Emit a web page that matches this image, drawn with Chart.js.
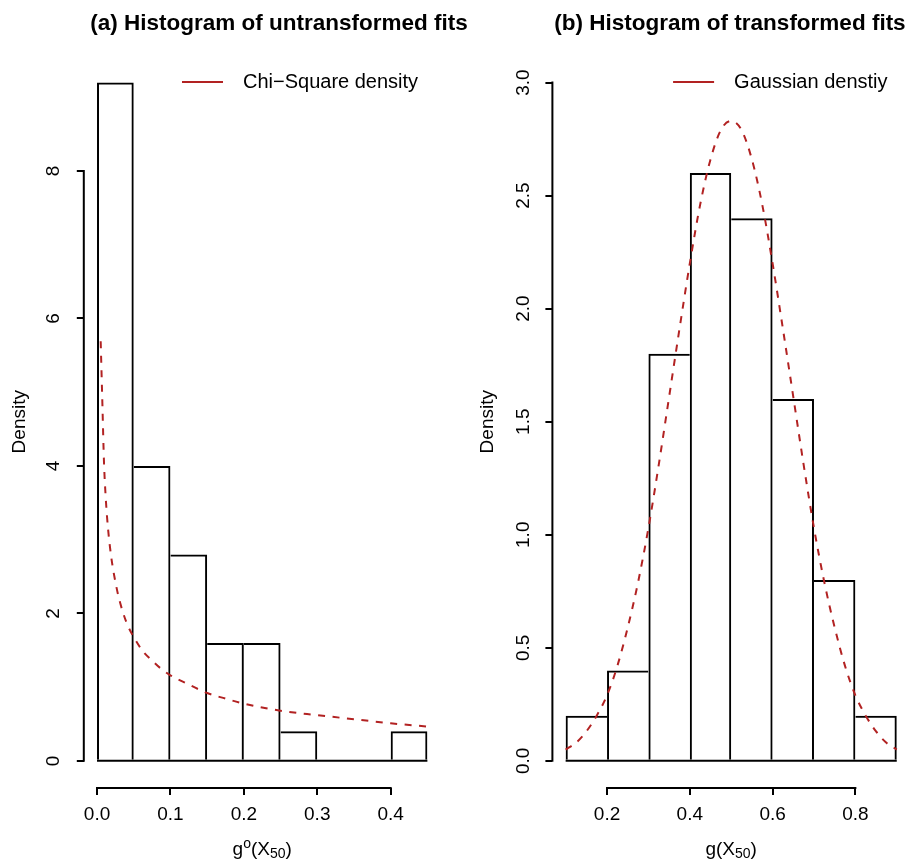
<!DOCTYPE html>
<html>
<head>
<meta charset="utf-8">
<script src="https://cdn.jsdelivr.net/npm/chart.js@4/dist/chart.umd.min.js"></script>
<style>
  html, body { margin: 0; padding: 0; background: #fff; width: 907px; height: 863px; overflow: hidden; }
  .panel { position: absolute; top: 0; height: 863px; }
  #wrapA { left: 0; width: 470px; }
  #wrapB { left: 470px; width: 450px; }
</style>
</head>
<body>
<div class="panel" id="wrapA"><canvas id="histA"></canvas></div>
<div class="panel" id="wrapB"><canvas id="histB"></canvas></div>
<script>
// ---- Panel (a): histogram of untransformed fits ----
const untransBreaks  = [0, 0.05, 0.10, 0.15, 0.20, 0.25, 0.30, 0.35, 0.40, 0.45];
const untransDensity = [9.2, 4.0, 2.8, 1.6, 1.6, 0.4, 0, 0, 0.4];
const untransYLim    = [0, 9.2];
const chiSqX = [0.005, 0.0073, 0.0095, 0.012, 0.015, 0.02, 0.025, 0.03, 0.04, 0.05, 0.063, 0.075,
                0.086, 0.10, 0.122, 0.15, 0.175, 0.20, 0.25, 0.30, 0.35, 0.40, 0.45];
const chiSqY = [5.69, 4.85, 4.05, 3.55, 3.15, 2.72, 2.43, 2.20, 1.88, 1.68, 1.48, 1.36,
                1.26, 1.16, 1.05, 0.92, 0.845, 0.775, 0.68, 0.62, 0.565, 0.51, 0.465];
const untransXTicks  = [0, 0.1, 0.2, 0.3, 0.4];
const untransXLabels = ['0.0', '0.1', '0.2', '0.3', '0.4'];
const untransYTicks  = [0, 2, 4, 6, 8];
const untransYLabels = ['0', '2', '4', '6', '8'];

// ---- Panel (b): histogram of transformed fits ----
const transBreaks  = [0.1, 0.2, 0.3, 0.4, 0.5, 0.6, 0.7, 0.8, 0.9];
const transDensity = [0.2, 0.4, 1.8, 2.6, 2.4, 1.6, 0.8, 0.2];
const transYLim    = [0, 3];
const gaussX = [0.100, 0.125, 0.150, 0.175, 0.200, 0.225, 0.250, 0.275, 0.300, 0.325, 0.350,
                0.375, 0.400, 0.425, 0.450, 0.475, 0.500, 0.525, 0.550, 0.575, 0.600, 0.625,
                0.650, 0.675, 0.700, 0.725, 0.750, 0.775, 0.800, 0.825, 0.850, 0.875, 0.900];
const gaussY = [0.05, 0.08, 0.13, 0.20, 0.29, 0.42, 0.59, 0.79, 1.03, 1.31, 1.61,
                1.91, 2.20, 2.46, 2.66, 2.79, 2.83, 2.79, 2.66, 2.46, 2.20, 1.91,
                1.61, 1.31, 1.03, 0.79, 0.59, 0.42, 0.29, 0.20, 0.13, 0.08, 0.05];
const transXTicks  = [0.2, 0.4, 0.6, 0.8];
const transXLabels = ['0.2', '0.4', '0.6', '0.8'];
const transYTicks  = [0, 0.5, 1.0, 1.5, 2.0, 2.5, 3.0];
const transYLabels = ['0.0', '0.5', '1.0', '1.5', '2.0', '2.5', '3.0'];

const FAMILY = '"Liberation Sans", Arimo, Arial, Helvetica, sans-serif';
const INK = '#000000';
const RED = '#B22222';
const LW = 2;

// axis limits padded by 4% on each side
function padRange(lo, hi) { const d = (hi - lo) * 0.04; return [lo - d, hi + d]; }

// one bar per bin, centred on the bin
function binBars(breaks, dens) {
  return dens.map((d, i) => ({ x: (breaks[i] + breaks[i + 1]) / 2, y: d }));
}
// shared edges are drawn once, by the taller of the two neighbouring bins
function binBorders(dens, w) {
  return dens.map((d, i) => ({
    top: d > 0 ? w : 0,
    bottom: 0,
    left: (i === 0 || dens[i - 1] < d) ? w : 0,
    right: (i === dens.length - 1 || dens[i + 1] <= d) ? w : 0
  }));
}
function pts(xs, ys) { return xs.map((x, i) => ({ x, y: ys[i] })); }

// axis lines that run from the first to the last tick only
const tickSpanAxes = {
  id: 'tickSpanAxes',
  afterDraw(chart) {
    const { ctx, chartArea: a, scales: { x, y } } = chart;
    const xt = x.ticks, yt = y.ticks;
    ctx.save();
    ctx.strokeStyle = INK;
    ctx.lineWidth = LW;
    ctx.lineCap = 'square';
    ctx.beginPath();
    ctx.moveTo(x.getPixelForValue(xt[0].value), a.bottom);
    ctx.lineTo(x.getPixelForValue(xt[xt.length - 1].value), a.bottom);
    ctx.moveTo(a.left, y.getPixelForValue(yt[0].value));
    ctx.lineTo(a.left, y.getPixelForValue(yt[yt.length - 1].value));
    ctx.stroke();
    ctx.restore();
  }
};

// panel title, line legend and the x-axis label with sub/superscripts
const panelText = {
  id: 'panelText',
  afterDraw(chart, args, o) {
    const { ctx, chartArea: a } = chart;
    ctx.save();
    ctx.fillStyle = INK;
    ctx.textBaseline = 'alphabetic';

    ctx.font = `bold ${o.titleSize}px ${FAMILY}`;
    ctx.textAlign = 'center';
    ctx.fillText(o.title, o.titleCenter, o.titleBaseline);

    ctx.font = `${o.legendSize}px ${FAMILY}`;
    ctx.textAlign = 'left';
    ctx.textBaseline = 'middle';
    const tw = ctx.measureText(o.legendText).width;
    const tx = a.right - o.legendInset - tw;
    ctx.fillText(o.legendText, tx, o.legendY);
    ctx.strokeStyle = RED;
    ctx.lineWidth = 2;
    ctx.beginPath();
    ctx.moveTo(tx - o.legendGap - o.legendLine, o.legendY);
    ctx.lineTo(tx - o.legendGap, o.legendY);
    ctx.stroke();

    ctx.textBaseline = 'alphabetic';
    const parts = o.xTitle.map(p => {
      const size = p.sub || p.sup ? o.xSmall : o.xSize;
      ctx.font = `${size}px ${FAMILY}`;
      return { ...p, size, w: ctx.measureText(p.t).width };
    });
    const total = parts.reduce((s, p) => s + p.w, 0);
    let cx = (a.left + a.right) / 2 - total / 2;
    for (const p of parts) {
      ctx.font = `${p.size}px ${FAMILY}`;
      const dy = p.sup ? -o.supRaise : p.sub ? o.subDrop : 0;
      ctx.fillText(p.t, cx, o.xBaseline + dy);
      cx += p.w;
    }
    ctx.restore();
  }
};

function makeScales(cfg) {
  const xr = padRange(cfg.breaks[0], cfg.breaks[cfg.breaks.length - 1]);
  const yr = padRange(cfg.yLim[0], cfg.yLim[1]);
  const grid = { display: true, drawOnChartArea: false, drawTicks: true, tickLength: 7,
                 color: INK, lineWidth: LW, offset: false };
  return {
    x: {
      type: 'linear', min: xr[0], max: xr[1], bounds: 'data', offset: false,
      grid, border: { display: false },
      afterBuildTicks: s => { s.ticks = cfg.xTicks.map(v => ({ value: v })); },
      afterFit: s => { s.height = 75; },
      ticks: { autoSkip: false, minRotation: 0, maxRotation: 0, padding: 8, color: INK,
               font: { family: FAMILY, size: 19 }, callback: (v, i) => cfg.xLabels[i] }
    },
    y: {
      type: 'linear', min: yr[0], max: yr[1], bounds: 'data', beginAtZero: false,
      grid, border: { display: false },
      afterBuildTicks: s => { s.ticks = cfg.yTicks.map(v => ({ value: v })); },
      afterFit: s => { s.width = cfg.yWidth; },
      ticks: { autoSkip: false, minRotation: 90, maxRotation: 90, crossAlign: 'center',
               padding: cfg.yTickPad, color: INK, font: { family: FAMILY, size: 19 },
               callback: (v, i) => cfg.yLabels[i] },
      title: { display: true, text: 'Density', color: INK, font: { family: FAMILY, size: 19 },
               padding: { top: cfg.yTitlePad, bottom: 0 } }
    }
  };
}

function makeChart(canvasId, cfg) {
  return new Chart(document.getElementById(canvasId), {
    type: 'bar',
    data: {
      datasets: [
        {
          type: 'line', label: cfg.curveLabel, data: pts(cfg.curveX, cfg.curveY), order: 0,
          borderColor: RED, borderWidth: 2, borderDash: [7, 7.5], pointRadius: 0,
          cubicInterpolationMode: 'monotone', fill: false
        },
        {
          type: 'line', label: 'baseline', order: 1,
          data: [{ x: cfg.breaks[0], y: 0 }, { x: cfg.breaks[cfg.breaks.length - 1], y: 0 }],
          borderColor: INK, borderWidth: LW, pointRadius: 0, fill: false
        },
        {
          type: 'bar', label: 'Density', data: binBars(cfg.breaks, cfg.density), order: 2,
          backgroundColor: 'rgba(255,255,255,0)', borderColor: INK,
          borderWidth: ctx => binBorders(cfg.density, LW)[ctx.dataIndex],
          borderSkipped: false, inflateAmount: 0,
          categoryPercentage: 1.0, barPercentage: 1.0
        }
      ]
    },
    options: {
      responsive: true, maintainAspectRatio: false, animation: false, events: [],
      layout: { padding: { left: 0, right: cfg.padRight, top: 55.4, bottom: 0 } },
      scales: makeScales(cfg),
      plugins: {
        legend: { display: false }, tooltip: { enabled: false },
        panelText: {
          title: cfg.title, titleCenter: cfg.titleCenter, titleBaseline: 29.5, titleSize: 22.5,
          legendText: cfg.curveLabel, legendSize: 20, legendY: 82, legendInset: 22.5,
          legendGap: 20, legendLine: 41,
          xTitle: cfg.xTitle, xSize: 19, xSmall: 14, xBaseline: 855, supRaise: 7, subDrop: 3
        }
      }
    },
    plugins: [tickSpanAxes, panelText]
  });
}

makeChart('histA', {
  breaks: untransBreaks, density: untransDensity, yLim: untransYLim,
  curveX: chiSqX, curveY: chiSqY, curveLabel: 'Chi\u2212Square density',
  xTicks: untransXTicks, xLabels: untransXLabels, yTicks: untransYTicks, yLabels: untransYLabels,
  yWidth: 83.8, yTickPad: 17.5, yTitlePad: 8.6, padRight: 29.4,
  title: '(a) Histogram of untransformed fits', titleCenter: 279,
  xTitle: [{ t: 'g' }, { t: 'o', sup: true }, { t: '(X' }, { t: '50', sub: true }, { t: ')' }]
});

makeChart('histB', {
  breaks: transBreaks, density: transDensity, yLim: transYLim,
  curveX: gaussX, curveY: gaussY, curveLabel: 'Gaussian denstiy',
  xTicks: transXTicks, xLabels: transXLabels, yTicks: transYTicks, yLabels: transYLabels,
  yWidth: 82.4, yTickPad: 8.2, yTitlePad: 6.6, padRight: 10,
  title: '(b) Histogram of transformed fits', titleCenter: 260,
  xTitle: [{ t: 'g(X' }, { t: '50', sub: true }, { t: ')' }]
});
</script>
</body>
</html>
